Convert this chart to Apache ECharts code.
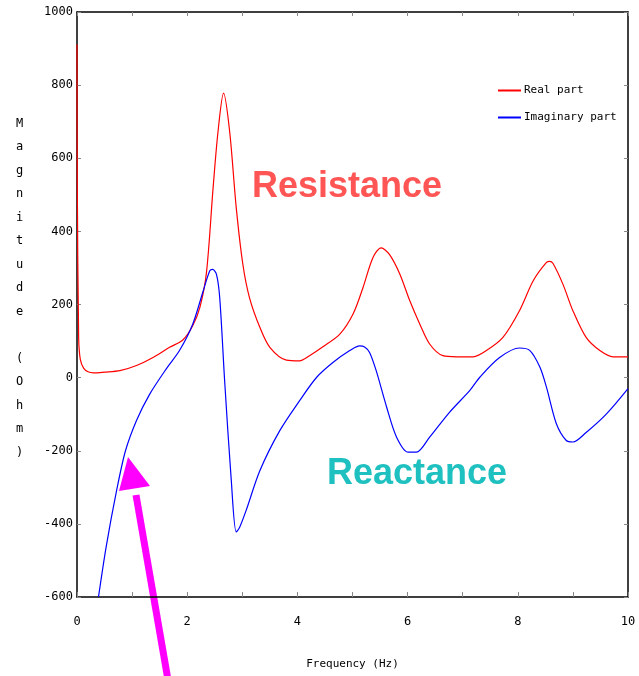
<!DOCTYPE html>
<html>
<head>
<meta charset="utf-8">
<script src="https://cdn.jsdelivr.net/npm/echarts@6/dist/echarts.min.js"></script>
<style>
html,body{margin:0;padding:0;background:#fff;}
#chart{width:639px;height:676px;}
</style>
</head>
<body>
<div id="chart"></div>
<script>
// frequency (Hz) / real part (Ohm)
const realFreq = [0, 0.005, 0.03, 0.06, 0.12, 0.2, 0.3, 0.5, 0.78, 1.08, 1.38, 1.68, 1.92, 2.1, 2.23, 2.35, 2.47, 2.56, 2.66, 2.77, 2.89, 3.01, 3.13, 3.32, 3.5, 3.8, 4.04, 4.22, 4.45, 4.77, 5.01, 5.19, 5.37, 5.52, 5.67, 5.86, 6.04, 6.22, 6.4, 6.64, 6.89, 7.19, 7.43, 7.73, 8.03, 8.28, 8.52, 8.58, 8.64, 8.82, 9.0, 9.24, 9.49, 9.73, 10];
const realVals = [911, 540, 110, 50, 26, 16, 13, 15, 19, 33, 55, 83, 103, 142, 192, 288, 519, 674, 778, 674, 465, 310, 219, 137, 83, 48, 46, 60, 83, 119, 174, 246, 328, 355, 337, 283, 210, 147, 92, 60, 57, 57, 74, 110, 183, 265, 315, 318, 312, 255, 183, 110, 74, 57, 57];

// frequency (Hz) / imaginary part (Ohm)
const imagFreq = [0.39, 0.53, 0.72, 0.88, 1.08, 1.32, 1.62, 1.86, 2.1, 2.29, 2.41, 2.46, 2.53, 2.59, 2.68, 2.8, 2.89, 2.95, 3.07, 3.32, 3.68, 4.04, 4.35, 4.65, 4.95, 5.13, 5.22, 5.31, 5.43, 5.62, 5.8, 6.01, 6.16, 6.4, 6.76, 7.13, 7.31, 7.67, 8.03, 8.22, 8.4, 8.52, 8.7, 8.88, 9.0, 9.24, 9.61, 10];
const imagVals = [-600, -462, -308, -200, -117, -45, 24, 74, 146, 237, 292, 296, 283, 219, -10, -281, -422, -410, -363, -254, -145, -63, 1, 42, 74, 87, 84, 69, 19, -81, -163, -204, -204, -163, -95, -35, 1, 55, 81, 74, 29, -26, -126, -172, -176, -150, -99, -30];

const xTicks = [0, 2, 4, 6, 8, 10];
const yTicks = [-600, -400, -200, 0, 200, 400, 600, 800, 1000];

const legendNames = ['Real part', 'Imaginary part'];
const yName = 'Magnitude (Ohm)';

const monoFont = 'DejaVu Sans Mono';

function pairs(xs, ys) {
	return xs.map((x, i) => [x, ys[i]]);
}

let chart = echarts.init(document.getElementById('chart'));

//隐藏的上/右坐标轴只用来画边框和刻度
const mirrorAxis = {
	axisLine: {show: true, onZero: false, lineStyle: {color: '#000', width: 1.5}},
	axisTick: {show: true, inside: true, length: 4, lineStyle: {color: '#888'}},
	axisLabel: {show: false},
	splitLine: {show: false}
};

chart.setOption({
	animation: false,
	backgroundColor: '#fff',
	grid: {left: 77, right: 11, top: 12, bottom: 79},
	legend: {
		data: legendNames,
		orient: 'vertical',
		left: 493,
		top: 80,
		icon: 'rect',
		itemWidth: 23,
		itemHeight: 2,
		itemGap: 16,
		textStyle: {fontFamily: monoFont, fontSize: 11, color: '#000', padding: [0, 0, 0, -2]}
	},
	xAxis: [{
		type: 'value',
		min: xTicks[0],
		max: xTicks[xTicks.length - 1],
		interval: 2,
		name: 'Frequency (Hz)',
		nameLocation: 'middle',
		nameGap: 62,
		nameTextStyle: {fontFamily: monoFont, fontSize: 11, color: '#000'},
		axisLine: {show: true, onZero: false, lineStyle: {color: '#000', width: 1.5}},
		axisTick: {show: true, inside: true, length: 5, lineStyle: {color: '#888'}},
		minorTick: {show: true, splitNumber: 2, length: 5, lineStyle: {color: '#888'}},
		axisLabel: {fontFamily: monoFont, fontSize: 12, color: '#000', margin: 19},
		splitLine: {show: false}
	}, Object.assign({
		type: 'value',
		position: 'top',
		min: 0,
		max: 10,
		interval: 1
	}, mirrorAxis)],
	yAxis: [{
		type: 'value',
		min: yTicks[0],
		max: yTicks[yTicks.length - 1],
		interval: 200,
		axisLine: {show: true, onZero: false, lineStyle: {color: '#000', width: 1.5}},
		axisTick: {show: true, inside: true, length: 4, lineStyle: {color: '#888'}},
		axisLabel: {fontFamily: monoFont, fontSize: 12, color: '#000', margin: 4, formatter: v => String(v)},
		splitLine: {show: false}
	}, Object.assign({
		type: 'value',
		position: 'right',
		min: -600,
		max: 1000,
		interval: 200
	}, mirrorAxis)],
	series: [{
		name: legendNames[0],
		type: 'line',
		data: pairs(realFreq, realVals),
		smooth: 0.3,
		showSymbol: false,
		clip: true,
		lineStyle: {color: '#ff0000', width: 1.2},
		itemStyle: {color: '#ff0000'}
	}, {
		name: legendNames[1],
		type: 'line',
		data: pairs(imagFreq, imagVals),
		smooth: 0.3,
		showSymbol: false,
		clip: true,
		lineStyle: {color: '#0000ff', width: 1.2},
		itemStyle: {color: '#0000ff'}
	}],
	graphic: [{
		type: 'text',
		left: 16,
		top: 112,
		style: {
			text: yName.split('').join('\n'),
			fontFamily: monoFont,
			fontSize: 12,
			lineHeight: 23.5,
			fill: '#000',
			align: 'center'
		}
	}, {
		type: 'text',
		x: 347,
		y: 187,
		style: {
			text: 'Resistance',
			font: 'bold 36px "Liberation Sans", Arial, sans-serif',
			fill: '#ff5555',
			align: 'center',
			verticalAlign: 'middle'
		}
	}, {
		type: 'text',
		x: 417,
		y: 474,
		style: {
			text: 'Reactance',
			font: 'bold 36px "Liberation Sans", Arial, sans-serif',
			fill: '#1fc0c0',
			align: 'center',
			verticalAlign: 'middle'
		}
	}, {
		//品红色箭头
		type: 'line',
		shape: {x1: 168, y1: 680, x2: 136, y2: 495},
		style: {stroke: '#ff00ff', lineWidth: 7}
	}, {
		type: 'polygon',
		shape: {points: [[128, 457], [119, 491], [150, 486]]},
		style: {fill: '#ff00ff'}
	}]
});

window.addEventListener('resize', function() {
	chart.resize();
});
</script>
</body>
</html>
